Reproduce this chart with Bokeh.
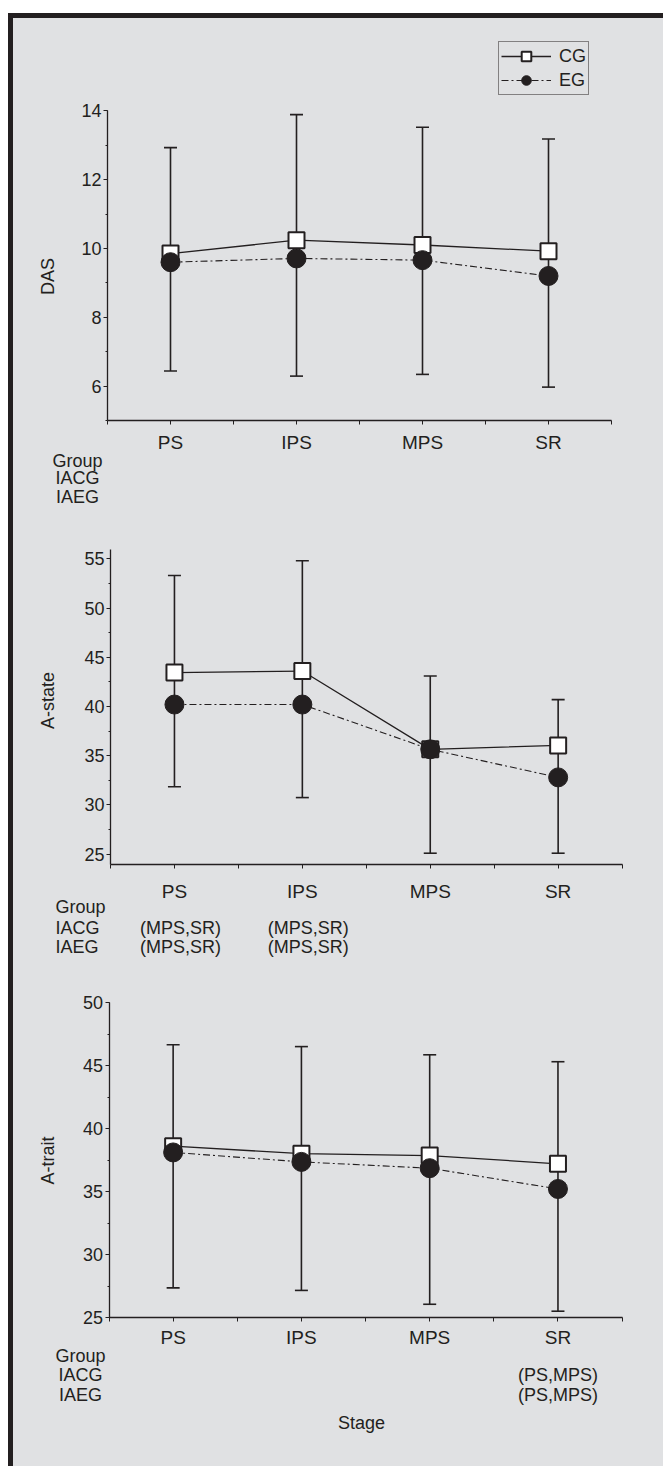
import math
from bokeh.plotting import figure
from bokeh.models import (ColumnDataSource, Whisker, TeeHead, Legend, LegendItem, Label,
                          FixedTicker, SingleIntervalTicker, Range1d, LinearAxis, Spacer)
from bokeh.layouts import column, row
from bokeh.embed import file_html
from bokeh.resources import INLINE

# ---------------- data ----------------
stages = ["PS", "IPS", "MPS", "SR"]
stage_x = [1, 2, 3, 4]
stage_edges = [0.5, 1.5, 2.5, 3.5, 4.5]

das_cg = [9.85, 10.24, 10.10, 9.92]
das_eg = [9.60, 9.71, 9.66, 9.20]
das_hi = [12.93, 13.89, 13.52, 13.18]
das_lo = [6.44, 6.29, 6.34, 5.97]
das_iacg = ["", "", "", ""]
das_iaeg = ["", "", "", ""]

state_cg = [43.45, 43.6, 35.65, 36.05]
state_eg = [40.2, 40.2, 35.65, 32.8]
state_hi = [53.3, 54.8, 43.1, 40.7]
state_lo = [31.85, 30.75, 25.1, 25.1]
state_iacg = ["(MPS,SR)", "(MPS,SR)", "", ""]
state_iaeg = ["(MPS,SR)", "(MPS,SR)", "", ""]

trait_cg = [38.6, 38.0, 37.85, 37.2]
trait_eg = [38.1, 37.35, 36.85, 35.2]
trait_hi = [46.65, 46.5, 45.85, 45.3]
trait_lo = [27.35, 27.15, 26.05, 25.5]
trait_iacg = ["", "", "", "(PS,MPS)"]
trait_iaeg = ["", "", "", "(PS,MPS)"]

row_names = ["Group", "IACG", "IAEG"]
group_names = ["CG", "EG"]

# ---------------- style ----------------
INK = "#231f20"
BG = "#e0e1e3"
FONT = "Liberation Sans"
W = 650


def make_panel(H, fx0, fx1, fya, fyb, va, vb, ybounds, interval,
               ylabel, ylabel_pos, xlab_standoff,
               cg, eg, hi, lo, iacg, iaeg, row_fy, row_fx, row_align, note_dx,
               xlabel=None, xlabel_pos=None):
    # pixel geometry -> data ranges (frame covers the whole figure)
    ppx = (fx1 - fx0) / 4.0
    xs = 0.5 - fx0 / ppx
    ppy = (fya - fyb) / (vb - va)
    ye = vb + fyb / ppy
    xr = (xs, xs + W / ppx)
    yr = (ye - H / ppy, ye)

    def xd(fx):
        return xs + fx / ppx

    def yd(fy):
        return ye - fy / ppy

    p = figure(width=W, height=H, x_range=Range1d(*xr), y_range=Range1d(*yr),
               output_backend="svg", toolbar_location=None,
               x_axis_location=None, y_axis_location=None,
               min_border=0, background_fill_color=BG, border_fill_color=BG,
               outline_line_color=None)
    p.grid.visible = False

    src = ColumnDataSource(dict(x=stage_x, cg=cg, eg=eg, hi=hi, lo=lo))
    w = Whisker(base="x", upper="hi", lower="lo", source=src, dimension="height",
                line_color=INK, line_width=1.6,
                upper_head=TeeHead(size=13, line_color=INK, line_width=1.6),
                lower_head=TeeHead(size=13, line_color=INK, line_width=1.6))
    p.add_layout(w)

    cg_line = p.line("x", "cg", source=src, line_color=INK, line_width=1.3)
    eg_line = p.line("x", "eg", source=src, line_color=INK, line_width=1.1,
                     line_dash="7 3 2 3")
    cg_pts = p.scatter("x", "cg", source=src, marker="square", size=16,
                       fill_color="white", line_color=INK, line_width=2)
    eg_pts = p.scatter("x", "eg", source=src, marker="circle", size=19,
                       fill_color=INK, line_color=INK)

    # x axis
    xa = LinearAxis(fixed_location=ybounds[0], bounds=(0.5, 4.5))
    xa.ticker = FixedTicker(ticks=stage_x, minor_ticks=stage_edges)
    xa.major_label_overrides = dict(zip(stage_x, stages))
    xa.major_label_text_font = FONT
    xa.major_label_text_font_size = "19px"
    xa.major_label_text_color = INK
    xa.major_label_standoff = xlab_standoff
    xa.axis_line_color = INK
    xa.axis_line_width = 1.5
    xa.major_tick_line_color = INK
    xa.minor_tick_line_color = INK
    xa.major_tick_out = 4
    xa.major_tick_in = 0
    xa.minor_tick_out = 4
    xa.minor_tick_in = 0
    p.add_layout(xa, "below")

    # y axis
    ya = LinearAxis(fixed_location=0.5, bounds=ybounds)
    ya.ticker = SingleIntervalTicker(interval=interval, num_minor_ticks=2)
    ya.major_label_text_font = FONT
    ya.major_label_text_font_size = "18px"
    ya.major_label_text_color = INK
    ya.major_label_standoff = 2
    ya.axis_line_color = INK
    ya.axis_line_width = 1.3
    ya.major_tick_line_color = INK
    ya.minor_tick_line_color = INK
    ya.major_tick_out = 4
    ya.major_tick_in = 0
    ya.minor_tick_out = 2
    ya.minor_tick_in = 0
    p.add_layout(ya, "left")

    def txt(x, y, s, align="center", angle=0.0, dx=0):
        p.add_layout(Label(x=x, y=y, x_offset=dx, text=s, angle=angle,
                           text_align=align, text_baseline="middle",
                           text_font=FONT, text_font_size="18px", text_color=INK))

    txt(xd(ylabel_pos[0]), yd(ylabel_pos[1]), ylabel, angle=math.pi / 2)
    if xlabel:
        txt(xd(xlabel_pos[0]), yd(xlabel_pos[1]), xlabel)

    # rows under the axis
    for name, fy in zip(row_names, row_fy):
        txt(xd(row_fx), yd(fy), name, align=row_align)
    for notes, fy in ((iacg, row_fy[1]), (iaeg, row_fy[2])):
        for xs_, s in zip(stage_x, notes):
            if s:
                txt(xs_, yd(fy), s, dx=note_dx)
    return p, (cg_line, cg_pts, eg_line, eg_pts)


p1, r1 = make_panel(502, 94, 598, 402, 92.3, 5, 14, (5, 14), 2,
                    "DAS", (34, 258), 7,
                    das_cg, das_eg, das_hi, das_lo, das_iacg, das_iaeg,
                    (442, 459.7, 478.7), 64, "center", 0)
p2, _ = make_panel(448, 97, 608.6, 333.7, 38.3, 25, 55, (23.92, 55.91), 5,
                   "A-state", (34, 180), 12,
                   state_cg, state_eg, state_hi, state_lo, state_iacg, state_iaeg,
                   (386, 407.3, 426), 42, "left", 6)
p3, _ = make_panel(498, 95.5, 608.6, 349, 34, 25, 50, (25, 50), 5,
                   "A-trait", (34, 192), 5,
                   trait_cg, trait_eg, trait_hi, trait_lo, trait_iacg, trait_iaeg,
                   (387, 406.3, 426.3), 67, "center", 0,
                   xlabel="Stage", xlabel_pos=(348, 454.7))

legend = Legend(items=[LegendItem(label=group_names[0], renderers=[r1[0], r1[1]]),
                       LegendItem(label=group_names[1], renderers=[r1[2], r1[3]])],
                location=(485, 425), orientation="vertical", padding=2, spacing=0,
                glyph_height=24, label_height=24, glyph_width=50, label_standoff=8,
                margin=0, border_line_color=INK, border_line_width=1,
                background_fill_alpha=0, label_text_font=FONT,
                label_text_font_size="18px", label_text_color=INK)
p1.add_layout(legend)

inner = column(p1, p2, p3, spacing=0,
               styles={"border-top": "5px solid #231f20",
                       "border-left": "5px solid #231f20",
                       "background-color": BG})
layout = row(Spacer(width=8, height=1466),
             column(Spacer(width=655, height=13), inner, spacing=0),
             spacing=0, styles={"background-color": "white"})

open("out.html", "w").write(file_html(layout, INLINE))
